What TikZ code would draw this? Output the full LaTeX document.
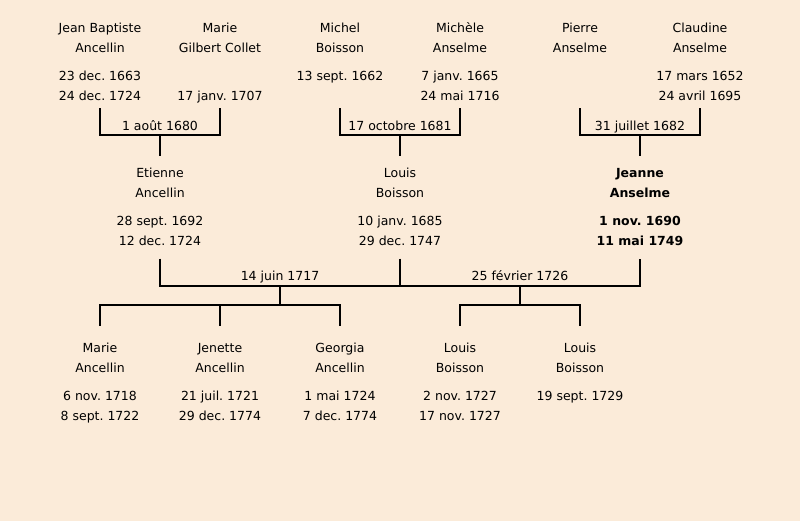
\documentclass[tikz,border=0pt]{standalone}
\usepackage{fontspec}
\setmainfont{DejaVu Sans}
\usepackage{tikz}
\definecolor{paper}{RGB}{251,235,217}
\newcommand{\pers}[4]{\strut#1\\\strut#2\\[8pt]\strut#3\\\strut#4}
\frenchspacing

\begin{document}
\begin{tikzpicture}[x=1pt, y=-1pt,
		every node/.style={font=\fontsize{12.5}{20}\selectfont, align=center, inner xsep=0pt},
		person/.style={inner ysep=#1},
		kin/.style={},
		heir/.style={font=\fontsize{12.5}{20}\selectfont\bfseries},
		bar/.style={line width=2.5pt}]
	\fill[paper] (0,0) rectangle (800,521);

	\foreach [count=\i] \x/\first/\last/\born/\died in {100/Jean Baptiste/Ancellin/23 dec. 1663/24 dec. 1724, 220/Marie/Gilbert Collet//17 janv. 1707, 340/Michel/Boisson/13 sept. 1662/, 460/Michèle/Anselme/7 janv. 1665/24 mai 1716, 580/Pierre/Anselme//, 700/Claudine/Anselme/17 mars 1652/24 avril 1695}
		\node[person=1.5] (a\i) at (\x,62.5) {\pers{\first}{\last}{\born}{\died}};

	\foreach [count=\i] \x/\s/\first/\last/\born/\died in {160/kin/Etienne/Ancellin/28 sept. 1692/12 dec. 1724, 400/kin/Louis/Boisson/10 janv. 1685/29 dec. 1747, 640/heir/Jeanne/Anselme/1 nov. 1690/11 mai 1749}
		\node[person=7, \s] (b\i) at (\x,207.5) {\pers{\first}{\last}{\born}{\died}};

	\foreach [count=\i] \x/\first/\last/\born/\died in {100/Marie/Ancellin/6 nov. 1718/8 sept. 1722, 220/Jenette/Ancellin/21 juil. 1721/29 dec. 1774, 340/Georgia/Ancellin/1 mai 1724/7 dec. 1774, 460/Louis/Boisson/2 nov. 1727/17 nov. 1727, 580/Louis/Boisson/19 sept. 1729/}
		\node[person=12.5] (c\i) at (\x,382.5) {\pers{\first}{\last}{\born}{\died}};

	\foreach [count=\k] \i/\j/\x/\date in {1/2/160/1 août 1680, 3/4/400/17 octobre 1681, 5/6/640/31 juillet 1682} {
		\coordinate (m\k) at (\x,135);
		\node[anchor=base] (d\k) at (\x,130.5) {\date};
		\draw[bar] (a\i.south) |- (m\k) -| (a\j.south);
		\draw[bar] (m\k) -- (b\k.north);
	}

	\coordinate (w1) at (280,286);
	\coordinate (w2) at (520,286);
	\node[anchor=base] (e1) at (280,280) {14 juin 1717};
	\node[anchor=base] (e2) at (520,280) {25 février 1726};
	\draw[bar] (b1.south) |- (w1) -- (w2) -| (b3.south);
	\draw[bar] (b2.south) -- (b2.south |- w1);

	\coordinate (f1) at (280,305);
	\coordinate (f2) at (520,305);
	\draw[bar] (w1) -- (f1);
	\draw[bar] (w2) -- (f2);
	\draw[bar] (c1.north) |- (f1) -| (c3.north);
	\draw[bar] (c2.north) -- (c2.north |- f1);
	\draw[bar] (c4.north) |- (f2) -| (c5.north);
\end{tikzpicture}
\end{document}
